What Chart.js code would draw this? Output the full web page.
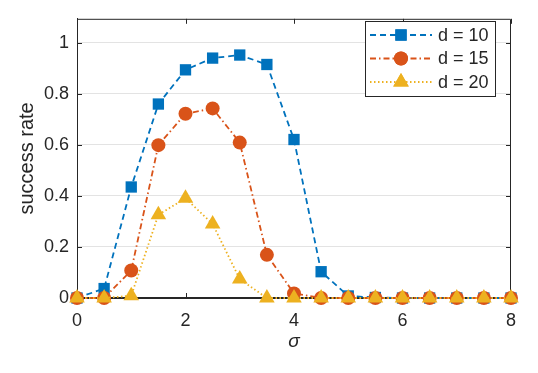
<!DOCTYPE html>
<html>
<head>
<meta charset="utf-8">
<script src="https://cdn.jsdelivr.net/npm/chart.js@4"></script>
<style>
  html, body { margin: 0; padding: 0; background: #fff; }
  #wrap { width: 538px; height: 373px; }
</style>
</head>
<body>
<div id="wrap"><canvas id="chart" width="538" height="373"></canvas></div>
<script>
// ── DATA ──────────────────────────────────────────
const sigma = [0, 0.5, 1, 1.5, 2, 2.5, 3, 3.5, 4, 4.5, 5, 5.5, 6, 6.5, 7, 7.5, 8];
const d10 = [0, 0.037, 0.435, 0.76, 0.894, 0.94, 0.952, 0.915, 0.621, 0.103, 0.008, 0.002, 0, 0, 0, 0, 0];
const d15 = [0, 0, 0.108, 0.599, 0.722, 0.743, 0.609, 0.169, 0.018, 0, 0, 0, 0, 0, 0, 0, 0];
const d20 = [0, 0, 0.009, 0.326, 0.391, 0.29, 0.074, 0, 0, 0, 0, 0, 0, 0, 0, 0, 0];
const xTicks = [0, 2, 4, 6, 8];
const yTicks = [0, 0.2, 0.4, 0.6, 0.8, 1];
const seriesLabels = ['d = 10', 'd = 15', 'd = 20'];

// ── STYLE ─────────────────────────────────────────
const FONT = "'Liberation Sans', Arial, sans-serif";
const AXIS = '#262626';
const SERIES = [
  { color: '#0072BD', dash: [6, 4],         style: 'rect',     radius: 8 },
  { color: '#D95319', dash: [6, 3, 1.5, 3], style: 'circle',   radius: 7 },
  { color: '#EDB120', dash: [1.5, 2.5],     style: 'triangle', radius: 9 },
];

function toPoints(ys) {
  return sigma.map((x, i) => ({ x, y: ys[i] }));
}

function dataset(i, ys) {
  const s = SERIES[i];
  return {
    label: seriesLabels[i],
    data: toPoints(ys),
    borderColor: s.color,
    backgroundColor: s.color,
    borderWidth: 1.8,
    borderDash: s.dash,
    pointStyle: s.style,
    pointRadius: s.radius,
    pointBorderWidth: 0,
    pointBackgroundColor: s.color,
    tension: 0,
    clip: false,
    order: 2 - i,
  };
}

// ── BOX + INWARD TICKS ────────────────────────────
const boxPlugin = {
  id: 'box',
  beforeDatasetsDraw(chart) {
    const { ctx, chartArea: a, scales } = chart;
    ctx.save();
    ctx.strokeStyle = AXIS;
    ctx.lineWidth = 1;
    ctx.beginPath();
    ctx.rect(a.left + 0.5, a.top + 0.5, a.right - a.left - 1, a.bottom - a.top - 1);
    xTicks.forEach(v => {
      const px = Math.round(scales.x.getPixelForValue(v)) + 0.5;
      ctx.moveTo(px, a.bottom); ctx.lineTo(px, a.bottom - 5);
      ctx.moveTo(px, a.top);    ctx.lineTo(px, a.top + 5);
    });
    yTicks.forEach(v => {
      const py = Math.round(scales.y.getPixelForValue(v)) + 0.5;
      ctx.moveTo(a.left, py);  ctx.lineTo(a.left + 5, py);
      ctx.moveTo(a.right, py); ctx.lineTo(a.right - 5, py);
    });
    ctx.stroke();
    ctx.restore();
  },
};

// ── LEGEND ────────────────────────────────────────
const legendPlugin = {
  id: 'matLegend',
  afterDatasetsDraw(chart) {
    const { ctx } = chart;
    const box = { x: 365, y: 21, w: 130, h: 75 };
    ctx.save();
    ctx.fillStyle = '#fff';
    ctx.fillRect(box.x, box.y, box.w, box.h);
    ctx.strokeStyle = AXIS;
    ctx.lineWidth = 1;
    ctx.strokeRect(box.x + 0.5, box.y + 0.5, box.w, box.h);
    const rows = [35, 58.5, 82];
    SERIES.forEach((s, i) => {
      const y = rows[i];
      ctx.strokeStyle = s.color;
      ctx.lineWidth = 1.8;
      ctx.setLineDash(s.dash);
      ctx.beginPath();
      ctx.moveTo(370, y); ctx.lineTo(432, y);
      ctx.stroke();
      ctx.setLineDash([]);
      ctx.fillStyle = s.color;
      Chart.helpers.drawPoint(ctx, { pointStyle: s.style, radius: s.radius, borderWidth: 0 }, 401, y);
      ctx.fill();
      ctx.fillStyle = AXIS;
      ctx.font = `18px ${FONT}`;
      ctx.textAlign = 'left';
      ctx.textBaseline = 'middle';
      ctx.fillText(seriesLabels[i], 438, y + 1);
    });
    ctx.restore();
  },
};

// ── CHART ─────────────────────────────────────────
new Chart(document.getElementById('chart').getContext('2d'), {
  type: 'line',
  data: {
    datasets: [dataset(0, d10), dataset(1, d15), dataset(2, d20)],
  },
  options: {
    responsive: false,
    animation: false,
    layout: { padding: { left: 0, top: 8, right: 27, bottom: 0 } },
    plugins: {
      legend: { display: false },
      tooltip: { enabled: false },
    },
    scales: {
      x: {
        type: 'linear',
        min: 0,
        max: 8,
        afterBuildTicks: s => { s.ticks = xTicks.map(v => ({ value: v })); },
        afterFit: s => { s.height = 75; },
        grid: { display: false, drawTicks: false },
        border: { color: AXIS, width: 1 },
        ticks: { color: AXIS, padding: 12, maxRotation: 0, font: { family: FONT, size: 18 } },
        title: {
          display: true,
          text: 'σ',
          color: AXIS,
          font: { family: FONT, size: 19, style: 'italic' },
          padding: { top: 0, bottom: 20 },
        },
      },
      y: {
        min: 0,
        max: 1.094,
        afterBuildTicks: s => { s.ticks = yTicks.map(v => ({ value: v })); },
        afterFit: s => { s.width = 77; },
        grid: { color: '#e3e3e3', lineWidth: 1, drawTicks: false },
        border: { color: AXIS, width: 1 },
        ticks: {
          color: AXIS,
          padding: 8,
          font: { family: FONT, size: 18 },
          callback: v => String(+v.toFixed(1)),
        },
        title: {
          display: true,
          text: 'success rate',
          color: AXIS,
          font: { family: FONT, size: 20 },
          padding: { top: 15, bottom: 0 },
        },
      },
    },
  },
  plugins: [boxPlugin, legendPlugin],
});
</script>
</body>
</html>
